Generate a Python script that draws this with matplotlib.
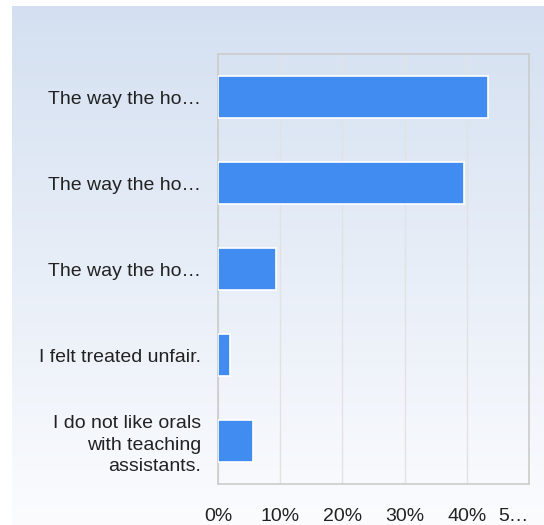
import numpy as np
import matplotlib
matplotlib.use("Agg")
import matplotlib.pyplot as plt

plt.rcParams["font.family"] = ["Liberation Sans", "DejaVu Sans"]

labels = ["The way the ho…", "The way the ho…", "The way the ho…",
          "I felt treated unfair.", "I do not like orals\nwith teaching\nassistants."]
shares = [43.4, 39.6, 9.4, 1.9, 5.7]
xticks = [0, 10, 20, 30, 40, 50]
xticklabels = ["0%", "10%", "20%", "30%", "40%", "5…"]

W, H = 544, 525
fig = plt.figure(figsize=(W / 100, H / 100), dpi=100)
fig.patch.set_facecolor("white")

# soft blue-to-white gradient panel behind the chart
bg = fig.add_axes([12 / W, 0, (W - 12) / W, (H - 6) / H])
top = np.array([0.831, 0.878, 0.945])
bot = np.array([0.985, 0.988, 0.996])
t = np.linspace(0, 1, 256)[:, None]
grad = (top * (1 - t) + bot * t)[:, None, :]
bg.imshow(grad, aspect="auto", extent=[0, 1, 0, 1])
bg.axis("off")

ax = fig.add_axes([218 / W, 41 / H, 311 / W, 430 / H])
ax.set_facecolor("none")
y = np.arange(len(labels))
ax.barh(y, shares, height=0.48, color="#418cf0", edgecolor="white",
        linewidth=1.2, zorder=3)
ax.set_xlim(0, 50)
ax.set_ylim(len(labels) - 0.5, -0.5)
ax.set_xticks(xticks)
ax.set_xticklabels(xticklabels)
ax.set_yticks(y)
ax.set_yticklabels(labels, linespacing=1.35)
ax.tick_params(axis="both", length=0, labelsize=14, colors="#222222")
ax.tick_params(axis="x", pad=17)
ax.tick_params(axis="y", pad=12)
# last tick label is clipped at the edge, keep it inside
ax.get_xticklabels()[-1].set_ha("right")
ax.xaxis.grid(True, color="#e2e2e2", lw=1, zorder=0)
for s in ax.spines.values():
    s.set_color("#cccccc")
    s.set_linewidth(1.2)

fig.savefig("out.png", dpi=100)
